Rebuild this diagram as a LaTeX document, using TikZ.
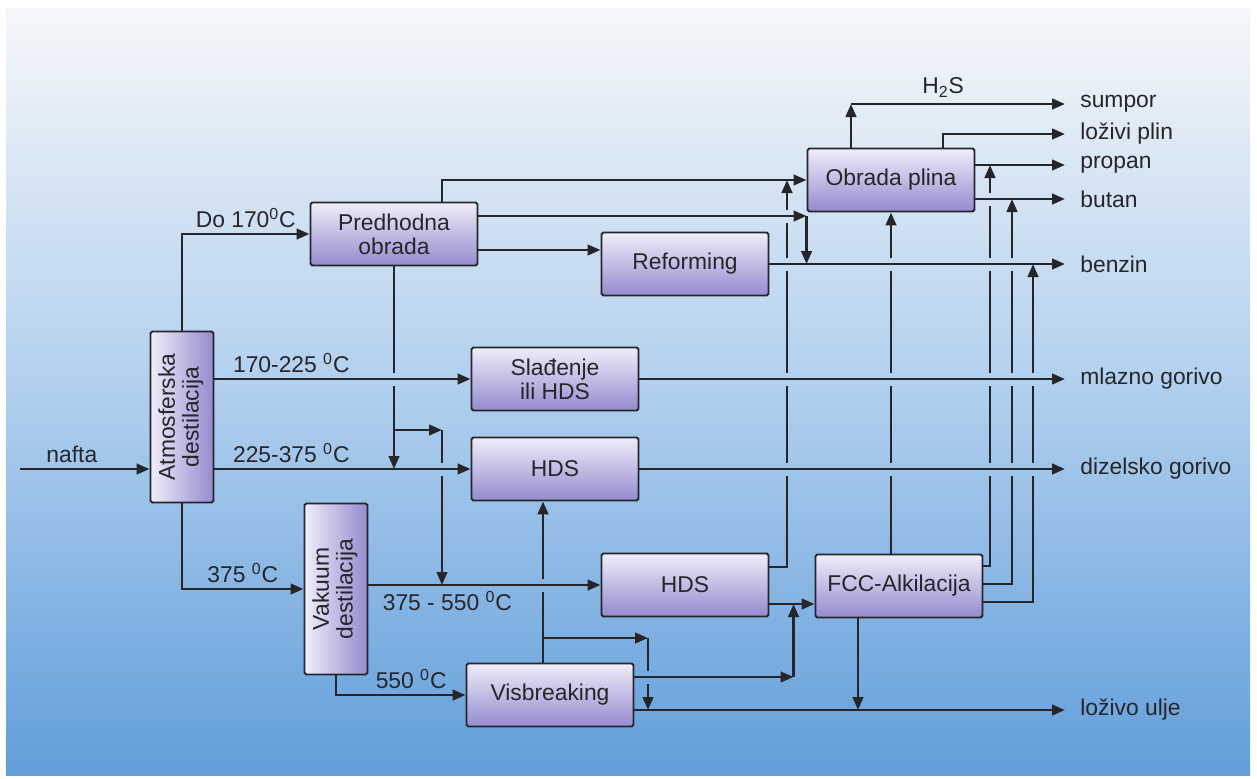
\documentclass[tikz,border=0pt]{standalone}
\usepackage{fontspec}
\setmainfont{Liberation Sans}
\usepackage{graphicx}
\usetikzlibrary{arrows.meta, calc}

\definecolor{bgTop}{RGB}{246,247,249}
\definecolor{bgMid}{RGB}{176,207,238}
\definecolor{bgBot}{RGB}{98,158,218}
\definecolor{boxTop}{RGB}{240,238,250}
\definecolor{boxBot}{RGB}{148,138,206}
\definecolor{ink}{RGB}{38,38,42}

\begin{document}
\begin{tikzpicture}[
  x=0.02cm, y=-0.02cm,
  font=\fontsize{13}{13.5}\selectfont,
  unitbase/.style={draw=ink, line width=1.1pt, rounded corners=1pt, align=center,
    inner sep=2pt, text=ink},
  unitbox/.style={unitbase, top color=boxTop, bottom color=boxBot,
    minimum width=3.34cm, minimum height=1.26cm},
  tower/.style={unitbase, left color=boxTop, right color=boxBot,
    minimum width=1.26cm, minimum height=3.42cm},
  outlbl/.style={anchor=west, inner xsep=0.3cm, inner ysep=0pt, text=ink},
  lbl/.style={text=ink, inner sep=3pt},
  flow/.style={draw=ink, line width=1.6pt, -{Triangle[length=0.26cm, width=0.21cm]}},
  hop/.style={preaction={draw=#1, line width=0.26cm, arrows=-,
    shorten <=0.14cm, shorten >=0.14cm}}
]
\useasboundingbox (0,0) rectangle (1257,778);
\shade[top color=bgTop, bottom color=bgBot, middle color=bgMid] (6,8) rectangle (1250,775);

% --- process units ---
\node[tower] (atm) at (182,417) {\rotatebox{90}{\begin{tabular}{@{}c@{}}Atmosferska\\destilacija\end{tabular}}};
\node[tower] (vak) at (336,589) {\rotatebox{90}{\begin{tabular}{@{}c@{}}Vakuum\\destilacija\end{tabular}}};
\node[unitbox] (pred) at (394,234) {Predhodna\\obrada};
\node[unitbox] (ref)  at (685,264) {Reforming};
\node[unitbox] (sla)  at (555,379) {Slađenje\\ili HDS};
\node[unitbox] (hds1) at (555,469) {HDS};
\node[unitbox] (hds2) at (685,585) {HDS};
\node[unitbox] (vis)  at (550,695) {Visbreaking};
\node[unitbox] (fcc)  at (899,586) {FCC-Alkilacija};
\node[unitbox] (obr)  at (891,180) {Obrada plina};

% --- products at right ---
\node[outlbl] (sumpor) at (1065,104) {sumpor};
\node[outlbl] (lplin)  at (1065,134) {loživi plin};
\node[outlbl] (propan) at (1065,165) {propan};
\node[outlbl] (butan)  at (1065,199) {butan};
\node[outlbl] (benzin) at (1065,264) {benzin};
\node[outlbl] (mlazno) at (1065,379) {mlazno gorivo};
\node[outlbl] (dizel)  at (1065,469) {dizelsko gorivo};
\node[outlbl] (lozu)   at (1065,710) {loživo ulje};

% --- bends and columns ---
\coordinate (in)   at (20,469);
\coordinate (cPre) at (442,430);
\coordinate (jP)   at (pred.south |- cPre);
\coordinate (jV)   at (543,638);
\coordinate (kV)   at (648,638);
\coordinate (cGas) at (787,0);
\coordinate (cP)   at (990,0);
\coordinate (cB)   at (1012,0);
\coordinate (cN)   at (1033,0);
\coordinate (kF)   at ($(fcc.west)+(-21,0)$);
\coordinate (pA)   at ($(pred.east)+(0,-18)$);
\coordinate (pB)   at ($(pred.east)+(0,16)$);
\coordinate (hA)   at ($(hds2.east)+(0,-18)$);
\coordinate (hB)   at ($(hds2.east)+(0,19)$);
\coordinate (vA)   at ($(vis.east)+(0,-18)$);
\coordinate (vB)   at ($(vis.east)+(0,15)$);
\coordinate (fA)   at ($(fcc.east)+(0,-20)$);
\coordinate (fB)   at ($(fcc.east)+(0,-2)$);
\coordinate (fC)   at ($(fcc.east)+(0,16)$);
\coordinate (fD)   at ($(fcc.south)+(-41,0)$);
\coordinate (oA)   at ($(obr.north)+(-40,0)$);

% --- crude and distillation cuts ---
\draw[flow] (in) -- (in -| atm.west) node[lbl, pos=0.4, above] {nafta};
\draw[flow] (atm.north) |- (pred.west) node[lbl, pos=0.75, above] {Do 170\textsuperscript{0}C};
\draw[flow] (atm.south) |- (vak.west) node[lbl, pos=0.75, above] {375 \textsuperscript{0}C};
\draw[flow] (vak.south) |- (vis.west) node[lbl, pos=0.79, above] {550 \textsuperscript{0}C};

% --- pretreatment to gas plant and reforming ---
\draw[flow] (pred.north -| cPre) |- (obr.west);
\draw[flow] (pB) -- (pB -| ref.west);

% risers into the gas plant (drawn before the lines they cross)
\draw[flow] (hA) -| (cGas |- obr.west);
\draw[flow] (obr.south |- fcc.north) -- (obr.south);
\draw[flow] (fA) -| (cP |- propan.west);

% gas plant products
\draw[flow] (obr.east |- propan.west) -- (propan.west);
\draw[flow, hop=bgMid!50!bgTop] (obr.east |- butan.west) -- (butan.west);
\draw[flow] (fB) -| (cB |- butan.west);
\draw[flow, hop=bgMid!67!bgTop] (ref.east) -- (ref.east -| benzin.west);
\draw[flow] (fC) -| (cN |- benzin.west);
\draw[flow, hop=bgMid!54!bgTop] (pA) -- (pA -| obr.west);
\draw[flow] (pA -| obr.west) -- (obr.west |- benzin.west);
\draw[flow] (oA) -- (oA |- sumpor.west);
\draw[flow] (oA |- sumpor.west) -- (sumpor.west) node[lbl, pos=0.43, above] {H\textsubscript{2}S};
\draw[flow] ($(obr.north)+(52,0)$) |- (lplin.west);

% --- visbreaking and middle distillates ---
\draw[flow] (jV |- vis.north) -- (jV |- hds1.south);
\draw[flow] (jV) -- (kV);
\draw[flow] (kV) -- (kV |- lozu.west);
\draw[flow, hop=bgBot!51!bgMid] (vak.east |- hds2.west) -- (hds2.west)
  node[lbl, pos=0.34, below] {375 - 550 \textsuperscript{0}C};
\draw[flow] (jP) -- (cPre);
\draw[flow] (cPre) -- (cPre |- hds2.west);
\draw[flow, hop=bgBot!20!bgMid] (atm.east |- hds1.west) -- (hds1.west)
  node[lbl, pos=0.3, above] {225-375 \textsuperscript{0}C};
\draw[flow, hop=bgBot!20!bgMid] (hds1.east) -- (hds1.east -| dizel.west);
\draw[flow] (pred.south) -- (pred.south |- hds1.west);
\draw[flow, hop=bgMid!97!bgTop] (atm.east |- sla.west) -- (sla.west)
  node[lbl, pos=0.3, above] {170-225 \textsuperscript{0}C};
\draw[flow, hop=bgMid!97!bgTop] (sla.east) -- (sla.east -| mlazno.west);

% --- FCC feed and fuel oil ---
\draw[flow, hop=bgBot!74!bgMid] (vA) -- (vA -| kF);
\draw[flow] (vA -| kF) -- (kF |- hB);
\draw[flow] (hB) -- (hB -| fcc.west);
\draw[flow] (vB) -- (vB -| lozu.west);
\draw[flow] (fD) -- (fD |- lozu.west);

\end{tikzpicture}
\end{document}
